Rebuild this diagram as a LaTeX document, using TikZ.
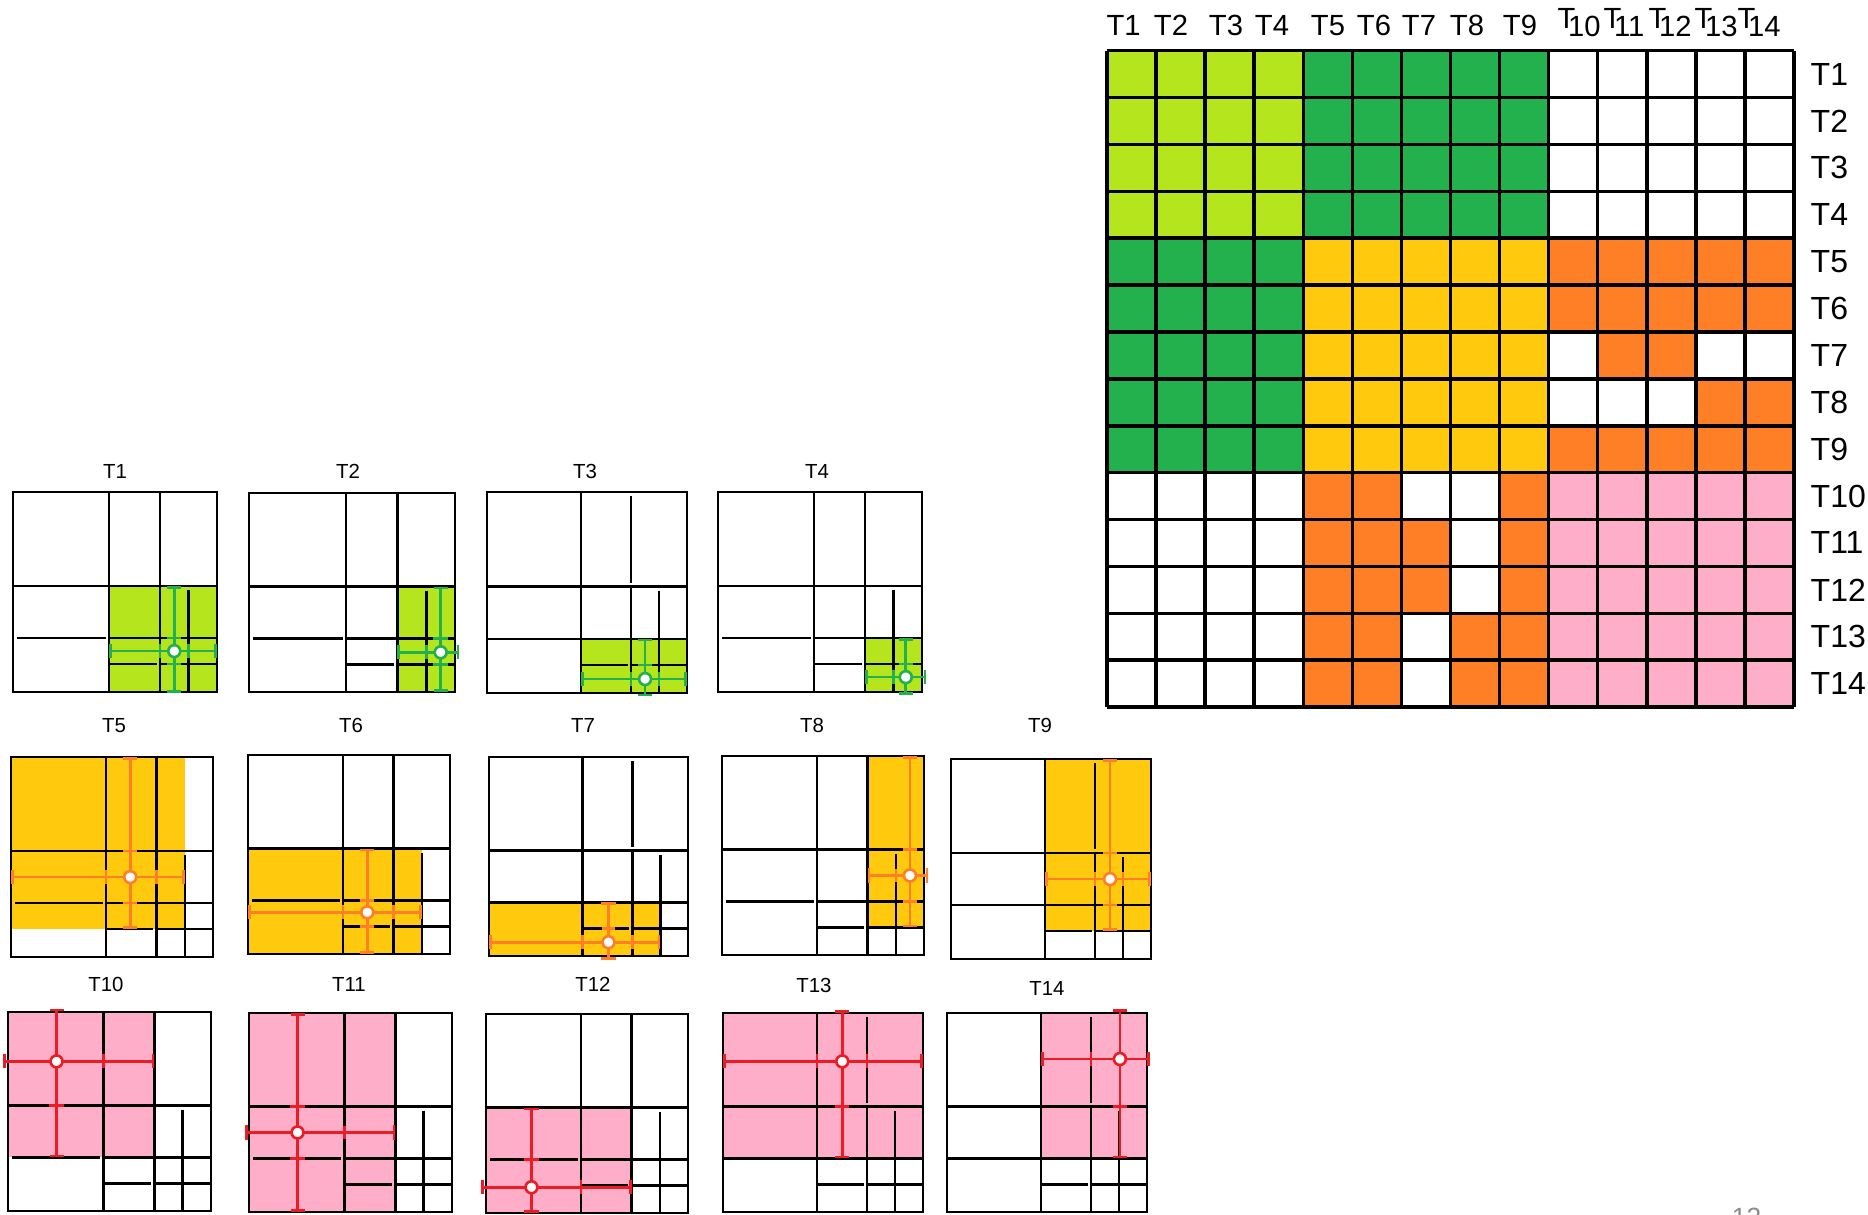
\documentclass[tikz,border=0pt]{standalone}
\usepackage{fontspec}
\setmainfont{Liberation Sans}
\usetikzlibrary{arrows.meta}

\definecolor{lm}{HTML}{B5E61D}
\definecolor{gr}{HTML}{22B14C}
\definecolor{gd}{HTML}{FFC90E}
\definecolor{og}{HTML}{FF7F27}
\definecolor{pk}{HTML}{FFAEC9}
\definecolor{rd}{HTML}{ED1C24}
\colorlet{wh}{white}

% the common tile layout of one small panel (unit square, y downwards)
% #1,#2: extent of the upper x=0.72 line, #3,#4: extent of the left y=0.73 line
\newcommand{\tilegrid}[4]{%
  \draw[tileline] (0,0) rectangle (1,1);
  \draw[tileline] (0.47,0) -- (0.47,1);
  \draw[tileline] (0.72,#1) -- (0.72,#2);
  \draw[tileline] (0.72,0.47) -- (0.72,1);
  \draw[tileline] (0,0.47) -- (1,0.47);
  \draw[tileline] (#3,0.73) -- (#4,0.73);
  \draw[tileline] (0.47,0.73) -- (1,0.73);
  \draw[tileline] (0.475,0.86) -- (0.705,0.86);
  \draw[tileline] (0.72,0.86) -- (1,0.86);
  \draw[tileline] (0.86,0.49) -- (0.86,1);
}
% stencil arms: colour, position, from, to, ticks
\newcommand{\hprobe}[5]{%
  \draw[probe=#1] (#3,#2) -- (#4,#2);
  \foreach \t in {#5} \draw[nick=#1] (\t,#2-0.035) -- (\t,#2+0.035);
}
\newcommand{\vprobe}[5]{%
  \draw[probe=#1] (#2,#3) -- (#2,#4);
  \foreach \t in {#5} \draw[nick=#1] (#2-0.035,\t) -- (#2+0.035,\t);
}
\newcommand{\tsub}[1]{\raisebox{2.2pt}{T}\kern-0.25em #1}

\tikzset{
  cellline/.style={line width=1pt, black},
  tileline/.style={line width=0.75pt, black},
  probe/.style={draw=#1, line width=0.75pt, {Bar[width=4pt]}-{Bar[width=4pt]}},
  nick/.style={draw=#1, line width=0.75pt},
  hub/.style={circle, draw=#1, fill=white, line width=0.75pt, minimum size=3.4pt, inner sep=0pt},
  tilelab/.style={inner sep=0pt, font=\fontsize{5.8}{7}\selectfont},
  colhead/.style={anchor=base, inner sep=0pt, font=\fontsize{8.3}{10}\selectfont},
  rowhead/.style={anchor=west, inner sep=0pt, font=\fontsize{9.1}{11}\selectfont}
}

\begin{document}
\begin{tikzpicture}[x=0.01cm, y=-0.01cm]
  \useasboundingbox (0,0) rectangle (1868,1214);
  \clip (0,0) rectangle (1868,1214);

  % interaction matrix
  \foreach \cols [count=\i] in {
      {lm,lm,lm,lm,gr,gr,gr,gr,gr,wh,wh,wh,wh,wh},
      {lm,lm,lm,lm,gr,gr,gr,gr,gr,wh,wh,wh,wh,wh},
      {lm,lm,lm,lm,gr,gr,gr,gr,gr,wh,wh,wh,wh,wh},
      {lm,lm,lm,lm,gr,gr,gr,gr,gr,wh,wh,wh,wh,wh},
      {gr,gr,gr,gr,gd,gd,gd,gd,gd,og,og,og,og,og},
      {gr,gr,gr,gr,gd,gd,gd,gd,gd,og,og,og,og,og},
      {gr,gr,gr,gr,gd,gd,gd,gd,gd,wh,og,og,wh,wh},
      {gr,gr,gr,gr,gd,gd,gd,gd,gd,wh,wh,wh,og,og},
      {gr,gr,gr,gr,gd,gd,gd,gd,gd,og,og,og,og,og},
      {wh,wh,wh,wh,og,og,wh,wh,og,pk,pk,pk,pk,pk},
      {wh,wh,wh,wh,og,og,og,wh,og,pk,pk,pk,pk,pk},
      {wh,wh,wh,wh,og,og,og,wh,og,pk,pk,pk,pk,pk},
      {wh,wh,wh,wh,og,og,wh,og,og,pk,pk,pk,pk,pk},
      {wh,wh,wh,wh,og,og,wh,og,og,pk,pk,pk,pk,pk}} {
    \foreach \c [count=\j] in \cols
      \fill[\c] ({1107+(\j-1)*49.07},{50.7+(\i-1)*46.88}) rectangle +(49.07,46.88);
  }
  \foreach \k in {0,...,14} {
    \draw[cellline] ({1107+\k*49.07},50.7) -- +(0,656.3);
    \draw[cellline] (1107,{50.7+\k*46.88}) -- +(687,0);
  }
  \foreach \n/\hx in {1/1123.6,2/1171,3/1226,4/1272,5/1328,6/1374,7/1419,8/1467,9/1520}
    \node[colhead] (h\n) at (\hx,35) {T\n};
  \foreach \n/\hx in {10/1579,11/1624,12/1670,13/1716,14/1759}
    \node[colhead] (h\n) at (\hx,36) {\tsub{\n}};
  \foreach \i in {1,...,14}
    \node[rowhead] (r\i) at (1810,{50.7+(\i-0.5)*46.88}) {T\i};

  % first row of panels
  \node[tilelab] (l1) at (115,471.5) {T1};
  \begin{scope}[shift={(13,492)}, x=2.04cm, y=-2cm]
    \fill[lm] (0.47,0.47) rectangle (1,1);
    \tilegrid{0}{0.47}{0.02}{0.455}
    \hprobe{gr}{0.795}{0.47}{1}{0.72,0.86}
    \vprobe{gr}{0.79}{0.47}{1.005}{0.73,0.86}
    \node[hub=gr] (c1) at (0.79,0.795) {};
  \end{scope}

  \node[tilelab] (l2) at (348,471.5) {T2};
  \begin{scope}[shift={(249,493)}, x=2.06cm, y=-1.99cm]
    \fill[lm] (0.72,0.47) rectangle (1,1);
    \tilegrid{0}{0.47}{0.02}{0.455}
    \hprobe{gr}{0.80}{0.72}{1.02}{0.86}
    \vprobe{gr}{0.93}{0.47}{1}{0.73,0.86}
    \node[hub=gr] (c2) at (0.93,0.80) {};
  \end{scope}

  \node[tilelab] (l3) at (585,471.5) {T3};
  \begin{scope}[shift={(487,492)}, x=2cm, y=-2.01cm]
    \fill[lm] (0.47,0.73) rectangle (1,1);
    \tilegrid{0.02}{0.45}{0}{0.47}
    \hprobe{gr}{0.93}{0.47}{1}{0.72,0.86}
    \vprobe{gr}{0.79}{0.73}{1.015}{0.86}
    \node[hub=gr] (c3) at (0.79,0.93) {};
  \end{scope}

  \node[tilelab] (l4) at (817,471.5) {T4};
  \begin{scope}[shift={(718,492)}, x=2.04cm, y=-2cm]
    \fill[lm] (0.72,0.73) rectangle (1,1);
    \tilegrid{0}{0.47}{0.02}{0.455}
    \hprobe{gr}{0.925}{0.72}{1.02}{0.86}
    \vprobe{gr}{0.92}{0.73}{1.015}{0.86}
    \node[hub=gr] (c4) at (0.92,0.925) {};
  \end{scope}

  % second row of panels
  \node[tilelab] (l5) at (114,725.5) {T5};
  \begin{scope}[shift={(11,757)}, x=2.02cm, y=-2cm]
    \fill[gd] (0,0) rectangle (0.86,0.86);
    \tilegrid{0}{0.47}{0.02}{0.455}
    \hprobe{og}{0.60}{0}{0.86}{0.47,0.72}
    \vprobe{og}{0.59}{0}{0.86}{0.47,0.73}
    \node[hub=og] (c5) at (0.59,0.60) {};
  \end{scope}

  \node[tilelab] (l6) at (351,725.5) {T6};
  \begin{scope}[shift={(248,755)}, x=2.02cm, y=-1.99cm]
    \fill[gd] (0,0.47) rectangle (0.86,1);
    \tilegrid{0}{0.47}{0.02}{0.455}
    \hprobe{og}{0.79}{0}{0.86}{0.47,0.72}
    \vprobe{og}{0.59}{0.47}{1}{0.73,0.86}
    \node[hub=og] (c6) at (0.59,0.79) {};
  \end{scope}

  \node[tilelab] (l7) at (583,725.5) {T7};
  \begin{scope}[shift={(489,757)}, x=1.99cm, y=-1.99cm]
    \fill[gd] (0,0.73) rectangle (0.86,1);
    \tilegrid{0.02}{0.45}{0}{0.47}
    \hprobe{og}{0.93}{0}{0.86}{0.47,0.72}
    \vprobe{og}{0.60}{0.73}{1.02}{0.86}
    \node[hub=og] (c7) at (0.60,0.93) {};
  \end{scope}

  \node[tilelab] (l8) at (812,725.5) {T8};
  \begin{scope}[shift={(722,756)}, x=2.02cm, y=-1.99cm]
    \fill[gd] (0.72,0) rectangle (1,0.86);
    \tilegrid{0}{0.47}{0.02}{0.455}
    \hprobe{og}{0.60}{0.72}{1.02}{0.86}
    \vprobe{og}{0.93}{0}{0.86}{0.47,0.73}
    \node[hub=og] (c8) at (0.93,0.60) {};
  \end{scope}

  \node[tilelab] (l9) at (1040,725.5) {T9};
  \begin{scope}[shift={(951,759)}, x=2cm, y=-2cm]
    \fill[gd] (0.47,0) rectangle (1,0.86);
    \tilegrid{0.02}{0.45}{0}{0.47}
    \hprobe{og}{0.60}{0.47}{1}{0.72,0.86}
    \vprobe{og}{0.795}{0}{0.86}{0.47,0.73}
    \node[hub=og] (c9) at (0.795,0.60) {};
  \end{scope}

  % third row of panels
  \node[tilelab] (l10) at (106,984) {T10};
  \begin{scope}[shift={(8,1012)}, x=2.03cm, y=-1.99cm]
    \fill[pk] (0,0) rectangle (0.72,0.73);
    \tilegrid{0}{0.47}{0.02}{0.455}
    \hprobe{rd}{0.248}{-0.023}{0.72}{0.47}
    \vprobe{rd}{0.239}{-0.017}{0.73}{0.47}
    \node[hub=rd] (c10) at (0.239,0.248) {};
  \end{scope}

  \node[tilelab] (l11) at (349,984) {T11};
  \begin{scope}[shift={(249,1013)}, x=2.03cm, y=-1.99cm]
    \fill[pk] (0,0) rectangle (0.72,1);
    \tilegrid{0}{0.47}{0.02}{0.455}
    \hprobe{rd}{0.60}{-0.02}{0.72}{0.47}
    \vprobe{rd}{0.239}{0}{1}{0.47,0.73}
    \node[hub=rd] (c11) at (0.239,0.60) {};
  \end{scope}

  \node[tilelab] (l12) at (593,984) {T12};
  \begin{scope}[shift={(486,1014)}, x=2.02cm, y=-1.99cm]
    \fill[pk] (0,0.47) rectangle (0.72,1);
    \tilegrid{0}{0.47}{0.02}{0.455}
    \hprobe{rd}{0.87}{-0.025}{0.72}{0.47}
    \vprobe{rd}{0.225}{0.47}{1}{0.73}
    \node[hub=rd] (c12) at (0.225,0.87) {};
  \end{scope}

  \node[tilelab] (l13) at (814,985) {T13};
  \begin{scope}[shift={(723,1013)}, x=2cm, y=-1.99cm]
    \fill[pk] (0,0) rectangle (1,0.73);
    \tilegrid{0.02}{0.45}{0}{0.47}
    \hprobe{rd}{0.243}{0}{1}{0.47,0.72}
    \vprobe{rd}{0.596}{-0.013}{0.73}{0.47}
    \node[hub=rd] (c13) at (0.596,0.243) {};
  \end{scope}

  \node[tilelab] (l14) at (1047,988) {T14};
  \begin{scope}[shift={(947,1013)}, x=2cm, y=-1.99cm]
    \fill[pk] (0.47,0) rectangle (1,0.73);
    \tilegrid{0.02}{0.45}{0}{0.47}
    \hprobe{rd}{0.231}{0.47}{1.013}{0.72}
    \vprobe{rd}{0.864}{-0.02}{0.73}{0.47}
    \node[hub=rd] (c14) at (0.864,0.231) {};
  \end{scope}

  \node[anchor=north, inner sep=0pt, text=black!45, font=\fontsize{7.5}{9}\selectfont] (pg) at (1746.5,1207) {12};
\end{tikzpicture}
\end{document}
